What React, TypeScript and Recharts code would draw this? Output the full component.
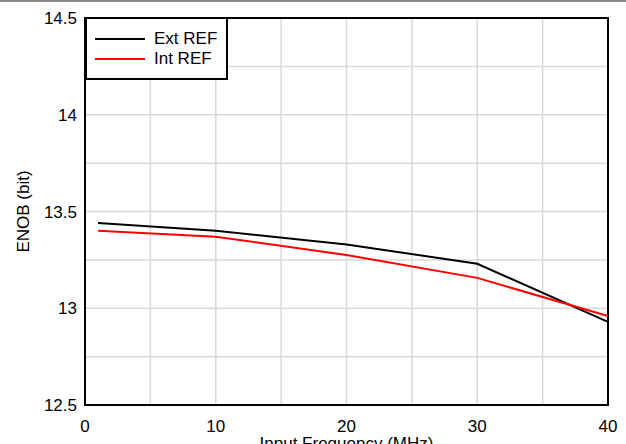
import {
  CartesianGrid,
  Line,
  LineChart,
  ReferenceArea,
  XAxis,
  YAxis,
} from "recharts";

const freq = [1, 10, 20, 30, 40];
const extRef = [13.44, 13.4, 13.33, 13.23, 12.93];
const intRef = [13.4, 13.37, 13.275, 13.157, 12.96];

const xTicks = [0, 5, 10, 15, 20, 25, 30, 35, 40];
const yTicks = [12.5, 12.75, 13, 13.25, 13.5, 13.75, 14, 14.25, 14.5];

const data = freq.map((f, i) => ({ f, ext: extRef[i], int: intRef[i] }));

const font = "'Liberation Sans', Arial, sans-serif";

function LegendBox() {
  const row = (color: string, label: string) => (
    <div style={{ display: "flex", alignItems: "center", height: 20 }}>
      <div style={{ width: 50, height: 2, background: color, marginLeft: 8, marginRight: 9 }} />
      <span style={{ fontSize: 17, color: "#000" }}>{label}</span>
    </div>
  );
  return (
    <div
      style={{
        position: "absolute",
        left: 85,
        top: 17,
        width: 143,
        height: 63,
        border: "2px solid #000",
        background: "#fff",
        fontFamily: font,
        paddingTop: 10,
        boxSizing: "border-box",
        lineHeight: "20px",
        zIndex: 3,
      }}
    >
      {row("#000", "Ext REF")}
      {row("#ff0000", "Int REF")}
    </div>
  );
}

function YTitle(props: any) {
  const vb = props.viewBox;
  const cy = vb.y + vb.height / 2;
  return (
    <text
      x={23}
      y={cy}
      transform={`rotate(-90, 23, ${cy})`}
      textAnchor="middle"
      dominantBaseline="central"
      fontSize={17}
      fontFamily={font}
      fill="#000"
    >
      ENOB (bit)
    </text>
  );
}

export default function App() {
  return (
    <div style={{ position: "absolute", left: 0, top: 0, width: 626, height: 444, background: "#fff" }}>
      <div style={{ position: "absolute", left: 0, top: 0, width: 626, height: 2, background: "#8a8a8a", zIndex: 2 }} />
      <LineChart
        width={626}
        height={444}
        data={data}
        margin={{ top: 18, right: 18, left: 0, bottom: 0 }}
        style={{ fontFamily: font }}
      >
        <CartesianGrid stroke="#d9d9d9" strokeWidth={1.5} />
        <XAxis
          dataKey="f"
          type="number"
          domain={[0, 40]}
          ticks={xTicks}
          tickFormatter={(v: number) => (v % 10 === 0 ? String(v) : "")}
          tickLine={false}
          tickSize={0}
          tickMargin={15}
          axisLine={{ stroke: "#000", strokeWidth: 2 }}
          tick={{ fill: "#000", fontSize: 17 }}
          height={39}
          interval={0}
          label={{ value: "Input Frequency (MHz)", position: "insideBottom", offset: -5, fill: "#000", fontSize: 17 }}
        />
        <YAxis
          type="number"
          domain={[12.5, 14.5]}
          ticks={yTicks}
          tickFormatter={(v: number) => (Math.abs(v * 2 - Math.round(v * 2)) < 1e-6 ? String(v) : "")}
          tickLine={false}
          tickSize={0}
          tickMargin={8}
          axisLine={{ stroke: "#000", strokeWidth: 2 }}
          tick={{ fill: "#000", fontSize: 17 }}
          width={85}
          interval={0}
          label={<YTitle />}
        />
        <ReferenceArea
          x1={0}
          x2={40}
          y1={12.5}
          y2={14.5}
          fill="none"
          fillOpacity={0}
          stroke="#000"
          strokeWidth={2}
          ifOverflow="visible"
        />
        <Line dataKey="ext" stroke="#000" strokeWidth={2} dot={false} isAnimationActive={false} />
        <Line dataKey="int" stroke="#ff0000" strokeWidth={2} dot={false} isAnimationActive={false} />
      </LineChart>
      <LegendBox />
    </div>
  );
}
